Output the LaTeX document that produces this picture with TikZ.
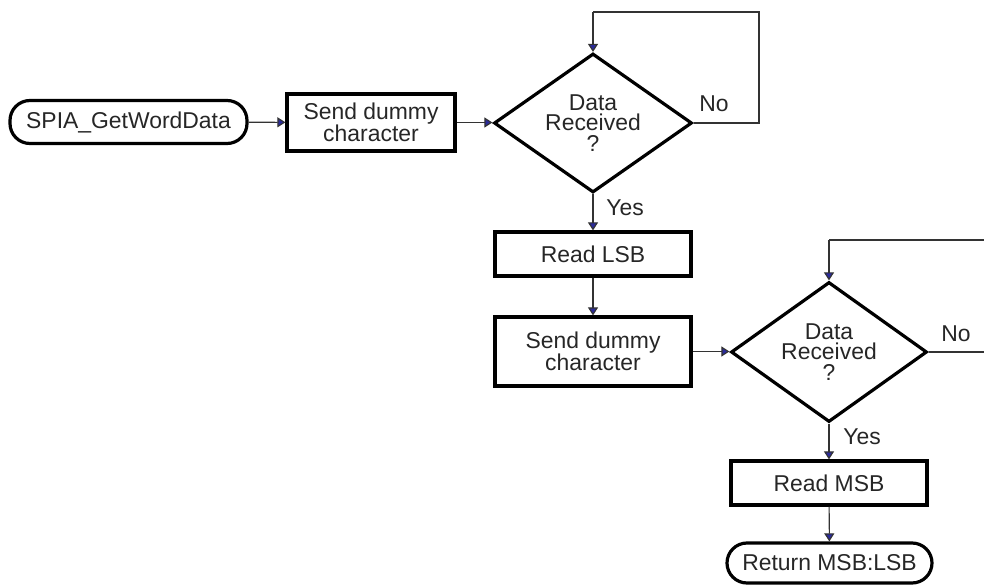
\documentclass[tikz,border=0pt]{standalone}
\usepackage{fontspec}
\setmainfont{Liberation Sans}
\usetikzlibrary{shapes.geometric,arrows.meta}
\definecolor{tipblue}{HTML}{2B2B9A}
\tikzset{
  every node/.style={font=\fontsize{23}{20.5}\selectfont, inner sep=0pt, align=center, text=black!85},
  procbox/.style={draw, line width=3.2bp, rectangle},
  termbox/.style={draw, line width=3.2bp, rectangle, rounded corners=20bp},
  decbox/.style={draw, line width=3.2bp, diamond, aspect=1.42},
  conn/.style={line width=1.1bp, draw=black!80, -{Triangle[length=8bp,width=10bp,fill=tipblue]}},
  plainconn/.style={line width=1.1bp, draw=black!80},
  lbl/.style={}
}
\begin{document}
\begin{tikzpicture}[x=1bp,y=-1bp]
\clip (0,0) rectangle (984,585);
\node[termbox, minimum width=237bp, minimum height=43bp] (start) at (128.5,122) {SPIA\_GetWordData};
\node[procbox, minimum width=168bp, minimum height=57bp] (send1) at (371,122.5) {Send dummy\\character};
\node[decbox, minimum width=198bp, minimum height=139bp] (dec1) at (593,123) {Data\\Received\\?};
\node[procbox, minimum width=196bp, minimum height=44bp] (lsb) at (593,254) {Read LSB};
\node[procbox, minimum width=196bp, minimum height=69bp] (send2) at (593,351.5) {Send dummy\\character};
\node[decbox, minimum width=196bp, minimum height=140bp] (dec2) at (829,352) {Data\\Received\\?};
\node[procbox, minimum width=196bp, minimum height=44bp] (msb) at (829,483) {Read MSB};
\node[termbox, minimum width=205bp, minimum height=40bp] (ret) at (829.5,563) {Return MSB:LSB};

\coordinate (l1a) at (759,123);
\coordinate (l1b) at (759,12);
\coordinate (l1c) at (593,12);
\coordinate (l2a) at (1000,352);
\coordinate (l2b) at (1000,240);
\coordinate (l2c) at (829,240);

\draw[conn] (start) -- (send1);
\draw[conn] (send1.east) -- (dec1.west |- send1.east);
\draw[plainconn] (dec1.east) -- (l1a) -- (l1b) -- (l1c);
\draw[conn] (l1c) -- (dec1.north);
\draw[conn] (dec1.south) -- (lsb);
\draw[conn] (lsb) -- (send2);
\draw[conn] (send2.east) -- (dec2.west |- send2.east);
\draw[plainconn] (dec2.east) -- (l2a) -- (l2b) -- (l2c);
\draw[conn] (l2c) -- (dec2.north);
\draw[conn] (dec2.south) -- (msb);
\draw[conn] (msb) -- (ret);

\node[lbl] (no1) at (714,104) {No};
\node[lbl] (yes1) at (625,208) {Yes};
\node[lbl] (no2) at (956,334) {No};
\node[lbl] (yes2) at (862,437) {Yes};
\end{tikzpicture}
\end{document}
